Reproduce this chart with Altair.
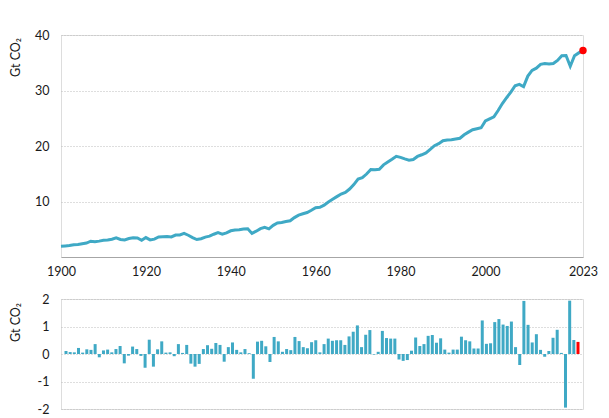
import altair as alt
import pandas as pd

years = list(range(1900, 2024))

emissions = [
    1.95, 2.00, 2.06, 2.22, 2.27, 2.40, 2.52, 2.85, 2.75, 2.86,
    3.00, 3.05, 3.20, 3.45, 3.15, 3.08, 3.32, 3.48, 3.42, 3.00,
    3.50, 3.08, 3.22, 3.62, 3.65, 3.68, 3.62, 3.95, 3.98, 4.25,
    3.92, 3.50, 3.15, 3.30, 3.58, 3.75, 4.10, 4.38, 4.12, 4.35,
    4.72, 4.85, 4.90, 5.05, 5.08, 4.25, 4.65, 5.10, 5.35, 5.08,
    5.70, 6.12, 6.22, 6.38, 6.52, 7.10, 7.55, 7.80, 8.02, 8.42,
    8.88, 8.95, 9.35, 9.92, 10.40, 10.88, 11.35, 11.65, 12.25, 13.05,
    14.05, 14.30, 14.95, 15.78, 15.74, 15.80, 16.60, 17.12, 17.62, 18.15,
    17.95, 17.68, 17.45, 17.56, 18.12, 18.42, 18.76, 19.40, 20.05, 20.42,
    20.95, 21.08, 21.12, 21.26, 21.40, 22.02, 22.50, 22.94, 23.12, 23.30,
    24.50, 24.88, 25.26, 26.40, 27.65, 28.70, 29.70, 30.86, 31.10, 30.70,
    32.60, 33.62, 34.02, 34.72, 34.86, 34.76, 34.86, 35.42, 36.28, 36.31,
    34.38, 36.28, 36.78, 37.20,
]

change = [
    0.11, 0.07, 0.06, 0.22, 0.05, 0.17, 0.15, 0.36, -0.12, 0.13,
    0.16, 0.06, 0.18, 0.29, -0.34, -0.06, 0.27, 0.18, -0.07, -0.50,
    0.52, -0.46, 0.17, 0.46, 0.05, 0.06, -0.08, 0.36, 0.04, 0.33,
    -0.35, -0.46, -0.36, 0.18, 0.32, 0.19, 0.40, 0.33, -0.28, 0.25,
    0.42, 0.15, 0.06, 0.18, 0.03, -0.90, 0.45, 0.48, 0.28, -0.29,
    0.62, 0.46, 0.08, 0.18, 0.14, 0.62, 0.47, 0.25, 0.21, 0.43,
    0.50, 0.06, 0.36, 0.56, 0.48, 0.50, 0.50, 0.33, 0.64, 0.81,
    1.04, 0.25, 0.70, 0.87, -0.02, 0.08, 0.84, 0.58, 0.56, 0.56,
    -0.20, -0.25, -0.22, 0.12, 0.60, 0.29, 0.36, 0.66, 0.69, 0.41,
    0.57, 0.16, 0.05, 0.16, 0.16, 0.63, 0.50, 0.46, 0.20, 0.20,
    1.22, 0.37, 0.39, 1.16, 1.27, 1.07, 1.02, 1.18, 0.25, -0.40,
    1.93, 1.06, 0.42, 0.72, 0.15, -0.10, 0.11, 0.59, 0.88, 0.04,
    -1.95, 1.94, 0.51, 0.44,
]

x_ticks = [1900, 1920, 1940, 1960, 1980, 2000, 2023]
top_ticks = [10, 20, 30, 40]
bottom_ticks = [-2, -1, 0, 1, 2]
last_year = 2023
y_title = "Gt CO₂"

df = pd.DataFrame({"year": years, "emissions": emissions, "change": change})

FONT = "Lato, Noto Sans, sans-serif"
TEAL = "#3FA9C5"
GRID = "#BDBDBD"
TEXT = "#1A1A1A"

x_scale = alt.Scale(domain=[1900, 2023], nice=False, zero=False)

y_axis_common = dict(
    grid=True, gridDash=[1, 2], gridColor=GRID, gridWidth=1,
    domain=False, ticks=False, labelPadding=12, labelFontSize=12.5,
    labelColor=TEXT, labelFont=FONT, titleFont=FONT, titleFontSize=12.5,
    titleFontWeight="normal", titleColor=TEXT, titleAngle=-90,
    titleX=-46, titleY=22, titleAlign="center", titleBaseline="middle",
)

base = alt.Chart(df)

line = base.mark_line(color=TEAL, strokeWidth=3).encode(
    x=alt.X("year:Q", scale=x_scale,
            axis=alt.Axis(values=x_ticks, format="d", title=None, grid=False,
                          ticks=False, domainColor="#A6A6A6", domainWidth=1,
                          labelFlush=False, labelPadding=8, labelFontSize=12.5,
                          labelColor=TEXT, labelFont=FONT)),
    y=alt.Y("emissions:Q", scale=alt.Scale(domain=[0, 40], nice=False),
            axis=alt.Axis(values=top_ticks, title=y_title, **y_axis_common)),
)

dot = base.transform_filter(alt.datum.year == last_year).mark_circle(
    color="#FF0000", size=55, opacity=1
).encode(x="year:Q", y="emissions:Q")

top = (line + dot).properties(width=522, height=222)

bottom_axis = dict(y_axis_common)
bottom_axis["titleY"] = 23

bars = base.mark_bar(size=3).encode(
    x=alt.X("year:Q", scale=x_scale, axis=None),
    y=alt.Y("change:Q", scale=alt.Scale(domain=[-2, 2], nice=False),
            axis=alt.Axis(values=bottom_ticks, title=y_title,
                          labelExpr="'' + datum.value", **bottom_axis)),
    color=alt.condition(alt.datum.year == last_year, alt.value("#FF0000"), alt.value(TEAL)),
).properties(width=522, height=110)

chart = alt.vconcat(top, bars, spacing=14).properties(
    padding={"left": 8, "top": 28, "right": 0, "bottom": 0}
).configure_view(stroke=None).configure(font=FONT)

chart.save("out.html", embed_options={"renderer": "svg", "actions": False})
